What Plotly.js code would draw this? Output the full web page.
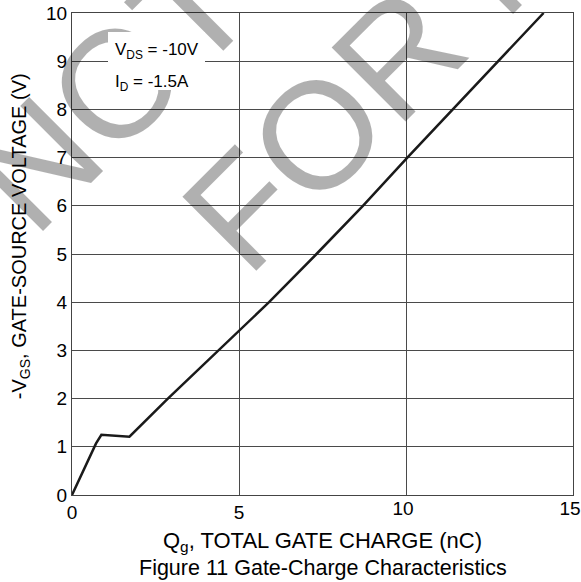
<!DOCTYPE html>
<html>
<head>
<meta charset="utf-8">
<script src="https://cdn.plot.ly/plotly-3.0.1.min.js"></script>
<style>html,body{margin:0;padding:0;background:#fff;}#chart{width:581px;height:582px;}</style>
</head>
<body>
<div id="chart"></div>
<script>
// Gate charge Qg (nC) and -VGS (V)
const qg  = [0, 0.72, 0.88, 1.72, 2.87, 4.37, 5.9, 7.32, 8.71, 10.04, 11.4, 12.75, 14.12];
const vgs = [0, 1.07, 1.25, 1.21, 2, 3, 4, 5, 6, 7, 8, 9, 10];

const xTicks = [0, 5, 10, 15];
const xTickLow = [0, 5];          // single-digit labels
const xTickHigh = [10, 15];       // two-digit labels (set slightly left, as in the source)
const yTicks = [0, 1, 2, 3, 4, 5, 6, 7, 8, 9, 10];

const condLines = ["V<sub>DS</sub> = -10V", "I<sub>D</sub> = -1.5A"];
const watermarkLines = ["NOT RECOMMENDED", "FOR NEW DESIGN"];
const xTitle = "Q<sub>g</sub>, TOTAL GATE CHARGE (nC)";
const yTitle = "-V<sub>GS</sub>, GATE-SOURCE VOLTAGE (V)";
const caption = "Figure 11 Gate-Charge Characteristics";

const FONT = "'Liberation Sans', Arial, Helvetica, sans-serif";

const trace = {
  x: qg, y: vgs, type: 'scatter', mode: 'lines',
  line: {color: '#1a1a1a', width: 2.5},
  hoverinfo: 'skip', showlegend: false
};
// same curve bound to the label-only overlay axis, drawn invisibly
const traceOverlay = {
  x: qg, y: vgs, type: 'scatter', mode: 'lines', xaxis: 'x2', yaxis: 'y',
  line: {color: 'rgba(0,0,0,0)', width: 0}, opacity: 0,
  hoverinfo: 'skip', showlegend: false
};

const wmFont = {family: FONT, size: 152, color: 'rgba(0,0,0,0.31)'};
const tickFont = {family: FONT, size: 19, color: '#000'};

const layout = {
  width: 581, height: 582,
  margin: {l: 72, r: 8, t: 13, b: 87},
  paper_bgcolor: '#fff', plot_bgcolor: '#fff',
  font: {family: FONT, color: '#000', size: 19},
  showlegend: false,
  xaxis: {
    range: [0, 15], tickvals: xTicks,
    ticktext: xTicks.map(v => xTickLow.includes(v) ? String(v) : ''),
    showgrid: true, gridcolor: '#4a4a4a', gridwidth: 1,
    zeroline: false, showline: true, mirror: true, linecolor: '#444', linewidth: 1,
    ticks: '',
    tickfont: tickFont,
    title: {text: xTitle, font: {family: FONT, size: 22, color: '#000'}, standoff: 10}
  },
  xaxis2: {
    overlaying: 'x', anchor: 'y', side: 'bottom',
    range: [0, 15], tickvals: xTickHigh, ticktext: xTickHigh.map(String),
    ticklabelshift: -3,
    showgrid: false, zeroline: false, showline: false, ticks: '',
    tickfont: tickFont
  },
  yaxis: {
    range: [0, 10], tickvals: yTicks, ticktext: yTicks.map(String),
    showgrid: true, gridcolor: '#4a4a4a', gridwidth: 1,
    zeroline: false, showline: true, mirror: true, linecolor: '#444', linewidth: 1,
    ticks: '',
    tickfont: tickFont
  },
  annotations: [
    {text: watermarkLines[0], xref: 'paper', yref: 'paper', x: -0.2754, y: 0.476,
     xanchor: 'left', yanchor: 'bottom', textangle: -45, showarrow: false, font: wmFont},
    {text: watermarkLines[1], xref: 'paper', yref: 'paper', x: 0.1497, y: 0.3954,
     xanchor: 'left', yanchor: 'bottom', textangle: -45, showarrow: false, font: wmFont},
    {text: yTitle, xref: 'paper', yref: 'paper', x: -0.1038, y: 0.537,
     xanchor: 'center', yanchor: 'middle', textangle: -90, showarrow: false,
     font: {family: FONT, size: 20, color: '#000'}},
    {text: ' ', xref: 'paper', yref: 'paper', x: 0.1687, y: 0.9004,
     xanchor: 'center', yanchor: 'middle', width: 97, height: 58,
     bgcolor: '#fff', borderpad: 0, borderwidth: 0, showarrow: false},
    {text: condLines[0], xref: 'paper', yref: 'paper', x: 0.0858, y: 0.9212,
     xanchor: 'left', yanchor: 'middle', borderpad: 0, borderwidth: 0, showarrow: false,
     font: {family: FONT, size: 17, color: '#000'}},
    {text: condLines[1], xref: 'paper', yref: 'paper', x: 0.0858, y: 0.8548,
     xanchor: 'left', yanchor: 'middle', borderpad: 0, borderwidth: 0, showarrow: false,
     font: {family: FONT, size: 17, color: '#000'}},
    {text: caption, xref: 'paper', yref: 'paper', x: 0.5, y: -0.1515,
     xanchor: 'center', yanchor: 'middle', showarrow: false,
     font: {family: FONT, size: 21.5, color: '#000'}}
  ]
};

Plotly.newPlot('chart', [trace, traceOverlay], layout, {staticPlot: true, displayModeBar: false});
</script>
</body>
</html>
